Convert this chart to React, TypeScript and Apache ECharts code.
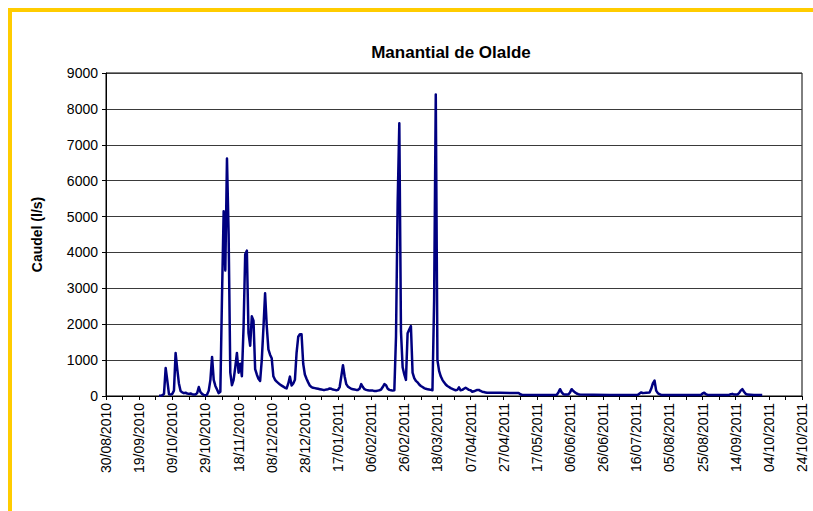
import React, { useEffect, useRef } from "react";
import * as echarts from "echarts";

// ---- data (daily discharge, l/s) ----
const oct2010 = [10, 10, 20, 60, 780, 430, 50, 40, 60, 150, 1200, 750, 350, 140, 100, 80, 90, 70, 60, 70, 50, 40, 40, 80, 250, 110, 60, 30, 20, 40, 150];
const nov2010 = [450, 1090, 450, 280, 180, 80, 120, 2770, 5150, 3500, 6620, 4500, 650, 300, 450, 800, 1200, 650, 900, 550, 1900, 3950, 4050, 1750, 1400, 2220, 2100, 750, 600, 480];
const dec2010 = [420, 1000, 1900, 2860, 1950, 1300, 1150, 1050, 550, 450, 400, 360, 320, 290, 260, 230, 210, 350, 540, 290, 350, 450, 1200, 1650, 1720, 1720, 900, 600, 480, 380, 290];
const jan2011 = [250, 230, 220, 210, 200, 190, 180, 170, 170, 180, 190, 210, 200, 180, 170, 160, 170, 250, 550, 860, 550, 330, 260, 230, 200, 190, 180, 170, 170, 200, 330];
const feb2011 = [250, 190, 170, 160, 150, 150, 150, 140, 140, 150, 160, 180, 250, 330, 300, 200, 170, 160, 150, 160, 1650, 5400, 7600, 1800, 800, 600, 450, 1750];
const mar2011 = [1850, 1950, 650, 500, 420, 380, 320, 280, 250, 220, 200, 190, 180, 170, 160, 2650, 8400, 1000, 700, 550, 450, 380, 320, 280, 250, 220, 200, 180, 160, 170, 240];
const apr2011 = [160, 170, 200, 230, 200, 170, 160, 120, 130, 150, 170, 170, 140, 120, 110, 100, 90, 90];
const monthStarts = ["2010-10-01", "2010-11-01", "2010-12-01", "2011-01-01", "2011-02-01", "2011-03-01", "2011-04-01"];
const monthValues = [oct2010, nov2010, dec2010, jan2011, feb2011, mar2011, apr2011];

const laterDates = [
  "2011-04-25", "2011-05-02", "2011-05-06", "2011-05-07", "2011-05-08", "2011-05-15", "2011-05-22", "2011-05-29",
  "2011-05-30", "2011-05-31", "2011-06-01", "2011-06-02", "2011-06-03", "2011-06-05", "2011-06-06", "2011-06-07",
  "2011-06-08", "2011-06-09", "2011-06-10", "2011-06-11", "2011-06-12", "2011-06-20", "2011-06-30", "2011-07-10",
  "2011-07-17", "2011-07-18", "2011-07-19", "2011-07-20", "2011-07-22", "2011-07-24", "2011-07-25", "2011-07-26",
  "2011-07-27", "2011-07-28", "2011-07-29", "2011-07-30", "2011-07-31", "2011-08-10", "2011-08-20", "2011-08-24",
  "2011-08-25", "2011-08-26", "2011-08-27", "2011-08-28", "2011-09-05", "2011-09-10", "2011-09-11", "2011-09-12",
  "2011-09-13", "2011-09-15", "2011-09-16", "2011-09-17", "2011-09-18", "2011-09-19", "2011-09-20", "2011-09-21",
  "2011-09-25", "2011-09-30",
];
const laterValues = [
  90, 85, 85, 50, 35, 30, 30, 35,
  100, 190, 100, 50, 40, 40, 100, 190,
  140, 100, 70, 50, 40, 35, 30, 30,
  35, 70, 100, 80, 90, 100, 200, 350,
  430, 150, 80, 50, 30, 25, 25, 30,
  70, 90, 50, 30, 30, 30, 50, 60,
  40, 40, 80, 150, 190, 120, 60, 40,
  30, 30,
];

const yTicks = [0, 1000, 2000, 3000, 4000, 5000, 6000, 7000, 8000, 9000];
const TITLE = "Manantial de Olalde";
const Y_NAME = "Caudel (l/s)";

// ---- helpers ----
const ORIGIN = Date.UTC(2010, 7, 30); // 30/08/2010
const AXIS_DAYS = 420; // to 24/10/2011
const DAY = 86400000;

function dayOffset(iso: string): number {
  const [y, m, d] = iso.split("-").map(Number);
  return Math.round((Date.UTC(y, m - 1, d) - ORIGIN) / DAY);
}
function fmt(off: number): string {
  const t = new Date(ORIGIN + off * DAY);
  const dd = String(t.getUTCDate()).padStart(2, "0");
  const mm = String(t.getUTCMonth() + 1).padStart(2, "0");
  return `${dd}/${mm}/${t.getUTCFullYear()}`;
}

function buildData(): [number, number][] {
  const out: [number, number][] = [];
  monthStarts.forEach((s, i) => {
    const o = dayOffset(s);
    monthValues[i].forEach((v, j) => out.push([o + j, v]));
  });
  laterDates.forEach((d, i) => out.push([dayOffset(d), laterValues[i]]));
  return out;
}

const FONT = "'Liberation Sans', Arial, Helvetica, sans-serif";

export default function App() {
  const ref = useRef<HTMLDivElement>(null);
  useEffect(() => {
    if (!ref.current) return;
    const chart = echarts.init(ref.current, undefined, { renderer: "svg" });
    chart.setOption({
      animation: false,
      backgroundColor: "#ffffff",
      textStyle: { fontFamily: FONT },
      graphic: [
        { type: "rect", shape: { x: 8, y: 8, width: 805, height: 4 }, style: { fill: "#FFCC00" } },
        { type: "rect", shape: { x: 8, y: 8, width: 4, height: 503 }, style: { fill: "#FFCC00" } },
        {
          type: "text",
          x: 451,
          y: 52,
          style: {
            text: TITLE,
            fill: "#000",
            font: `bold 17px ${FONT}`,
            textAlign: "center",
            textVerticalAlign: "middle",
          },
        },
      ],
      grid: {
        left: 106,
        right: 11,
        top: 73,
        bottom: 115,
        show: true,
        borderColor: "#000",
        borderWidth: 1,
        backgroundColor: "transparent",
      },
      xAxis: {
        type: "value",
        min: 0,
        max: AXIS_DAYS,
        interval: 10,
        axisLine: { show: true, onZero: false, lineStyle: { color: "#000", width: 1 } },
        axisTick: { show: true, length: 4, inside: false, lineStyle: { color: "#000" } },
        splitLine: { show: false },
        axisLabel: {
          rotate: 90,
          margin: 7,
          fontSize: 14,
          color: "#000",
          fontFamily: FONT,
          showMinLabel: true,
          showMaxLabel: true,
          formatter: (v: number) => (Math.round(v) % 20 === 0 ? fmt(Math.round(v)) : ""),
        },
      },
      yAxis: {
        type: "value",
        min: yTicks[0],
        max: yTicks[yTicks.length - 1],
        interval: 1000,
        name: Y_NAME,
        nameLocation: "middle",
        nameGap: 62,
        nameRotate: 90,
        nameTextStyle: { fontWeight: "bold", fontSize: 14, color: "#000", fontFamily: FONT },
        axisLine: { show: true, lineStyle: { color: "#000", width: 1 } },
        axisTick: { show: true, length: 4, inside: false, lineStyle: { color: "#000" } },
        splitLine: { show: true, lineStyle: { color: "#3a3a3a", width: 1 } },
        axisLabel: {
          margin: 8,
          fontSize: 14,
          color: "#000",
          fontFamily: FONT,
          formatter: (v: number) => String(v),
        },
      },
      series: [
        {
          type: "line",
          data: buildData(),
          showSymbol: false,
          symbol: "none",
          lineStyle: { color: "#000080", width: 2.5, join: "round" },
          itemStyle: { color: "#000080" },
        },
      ],
    });
    return () => chart.dispose();
  }, []);
  return (
    <div
      ref={ref}
      style={{ position: "fixed", left: 0, top: 0, width: 813, height: 511 }}
    />
  );
}
